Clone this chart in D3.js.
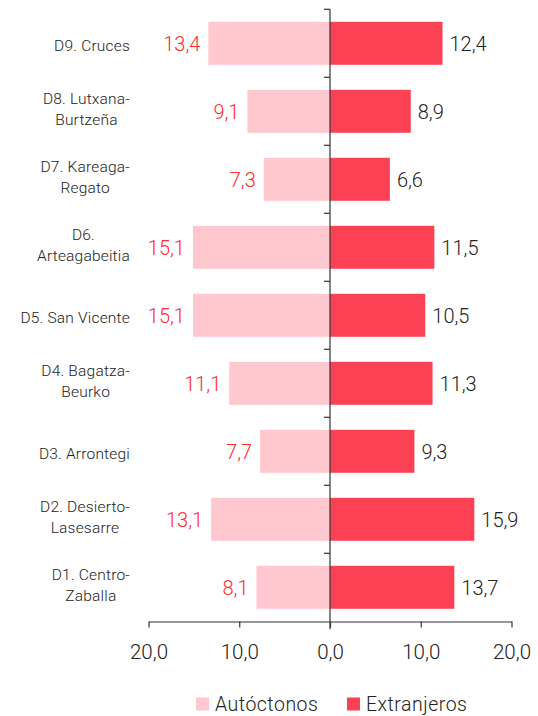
<!DOCTYPE html>
<html>
<head>
<meta charset="utf-8">
<script src="https://cdn.jsdelivr.net/npm/d3@7"></script>
<style>
  body { margin: 0; background: #fff; }
  svg { display: block; font-family: Roboto, "Liberation Sans", sans-serif; font-weight: 300; }
</style>
</head>
<body>
<svg width="538" height="716"></svg>
<script>
// districts, top to bottom (each label split in lines as in the original)
const districts = [
  ["D9. Cruces"],
  ["D8. Lutxana-", "Burtzeña"],
  ["D7. Kareaga-", "Regato"],
  ["D6.", "Arteagabeitia"],
  ["D5. San Vicente"],
  ["D4. Bagatza-", "Beurko"],
  ["D3. Arrontegi"],
  ["D2. Desierto-", "Lasesarre"],
  ["D1. Centro-", "Zaballa"]
];
const autoctonos  = [13.4, 9.1, 7.3, 15.1, 15.1, 11.1, 7.7, 13.1, 8.1];
const extranjeros = [12.4, 8.9, 6.6, 11.5, 10.5, 11.3, 9.3, 15.9, 13.7];
const xTicks = [-20, -10, 0, 10, 20];
const seriesNames = ["Autóctonos", "Extranjeros"];

const colors = { auto: "#ffc7ce", extr: "#fc4155", autoText: "#ff2a2a", text: "#222" };

const svg = d3.select("svg");

const x = d3.scaleLinear().domain([-20, 20]).range([148.5, 511.5]);
const ids = districts.map((d, i) => i);
const y = d3.scaleBand().domain(ids).range([9.3, 621.3]).paddingInner(0.368).paddingOuter(0.184);

const fmt = v => d3.format(".1f")(Math.abs(v)).replace(".", ",");

// bars
svg.append("g").selectAll("rect.auto")
  .data(ids)
  .join("rect")
  .attr("class", "auto")
  .attr("x", i => x(-autoctonos[i]))
  .attr("y", i => y(i))
  .attr("width", i => x(0) - x(-autoctonos[i]))
  .attr("height", y.bandwidth())
  .attr("fill", colors.auto);

svg.append("g").selectAll("rect.extr")
  .data(ids)
  .join("rect")
  .attr("class", "extr")
  .attr("x", x(0))
  .attr("y", i => y(i))
  .attr("width", i => x(extranjeros[i]) - x(0))
  .attr("height", y.bandwidth())
  .attr("fill", colors.extr);

// value labels
svg.append("g").selectAll("text")
  .data(ids)
  .join("text")
  .attr("x", i => x(-autoctonos[i]) - 8)
  .attr("y", i => y(i) + y.bandwidth() / 2 + 7.5)
  .attr("text-anchor", "end")
  .attr("font-size", 20)
  .attr("fill", colors.autoText)
  .text(i => fmt(autoctonos[i]));

svg.append("g").selectAll("text")
  .data(ids)
  .join("text")
  .attr("x", i => x(extranjeros[i]) + 7)
  .attr("y", i => y(i) + y.bandwidth() / 2 + 7.5)
  .attr("font-size", 20)
  .attr("fill", colors.text)
  .text(i => fmt(extranjeros[i]));

// vertical axis with ticks at band boundaries
const step = y.step();
const bounds = d3.range(districts.length + 1).map(k => 9.3 + k * step);
const vAxis = svg.append("g").attr("stroke", "#333").attr("stroke-width", 1.2);
vAxis.append("line")
  .attr("x1", x(0)).attr("x2", x(0))
  .attr("y1", bounds[0]).attr("y2", bounds[bounds.length - 1] + 8);
vAxis.selectAll("line.tick")
  .data(bounds.slice(0, -1))
  .join("line")
  .attr("class", "tick")
  .attr("x1", x(0) - 6).attr("x2", x(0))
  .attr("y1", d => d).attr("y2", d => d);

// category labels: block right aligned, lines centered within block
const labelRight = 130;
const lineH = 21;
const catG = svg.append("g").attr("font-size", 15.5).attr("letter-spacing", 0.2).attr("fill", colors.text);
districts.forEach((lines, i) => {
  const t = catG.append("text");
  const cy = y(i) + y.bandwidth() / 2;
  const y0 = lines.length > 1 ? cy - 7.3 : cy + 7.5;
  lines.forEach((ln, k) => {
    t.append("tspan").attr("y", y0 + k * lineH).text(ln);
  });
  let maxW = 0;
  t.selectAll("tspan").each(function() { maxW = Math.max(maxW, this.getComputedTextLength()); });
  t.attr("text-anchor", "middle").selectAll("tspan").attr("x", labelRight - maxW / 2);
});

// horizontal axis
const xAxis = svg.append("g")
  .attr("transform", "translate(0,621.5)")
  .call(d3.axisBottom(x).tickValues(xTicks).tickSize(6).tickSizeOuter(0).tickFormat(fmt));
xAxis.select(".domain").attr("stroke", "#333").attr("stroke-width", 1.2);
xAxis.selectAll(".tick line").attr("stroke", "#333").attr("stroke-width", 1.2);
xAxis.selectAll(".tick text")
  .attr("font-family", "Roboto, 'Liberation Sans', sans-serif")
  .attr("font-weight", 300)
  .attr("font-size", 20.5)
  .attr("fill", colors.text)
  .attr("dy", null)
  .attr("y", 37.5);

// legend
const legend = svg.append("g").attr("font-size", 19.5).attr("letter-spacing", 0.5).attr("fill", colors.text);
const legendItems = [
  { name: seriesNames[0], color: colors.auto, x: 196 },
  { name: seriesNames[1], color: colors.extr, x: 347 }
];
legendItems.forEach(d => {
  legend.append("rect").attr("x", d.x).attr("y", 697.5).attr("width", 13).attr("height", 13).attr("fill", d.color);
  legend.append("text").attr("x", d.x + 19).attr("y", 711).text(d.name);
});
</script>
</body>
</html>
